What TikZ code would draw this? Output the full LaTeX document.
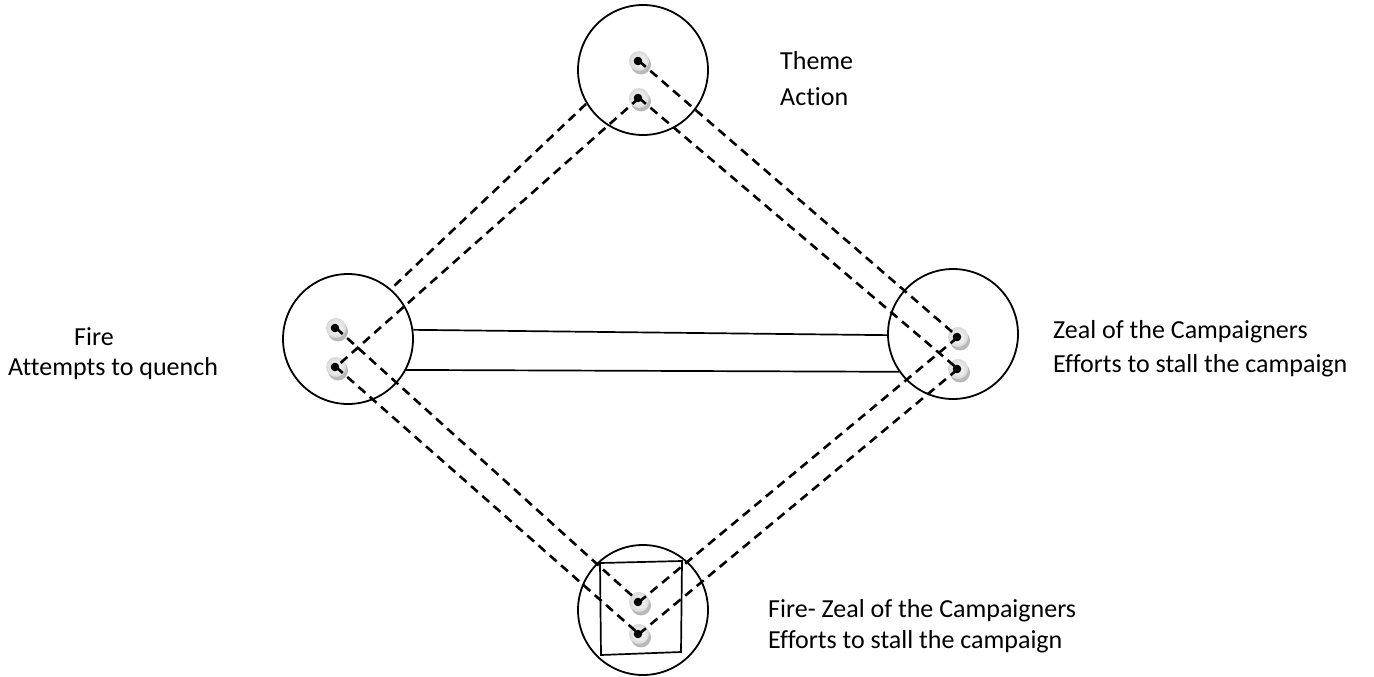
\documentclass[tikz,border=0pt]{standalone}
\usepackage{fontspec}
\setmainfont{Carlito}[Ligatures=NoCommon]
\begin{document}
\begin{tikzpicture}[x=1pt,y=-1pt,
  ring/.style={circle,draw,line width=1.8pt,minimum size=130pt,inner sep=0pt},
  link/.style={line width=2.6pt,dash pattern=on 9pt off 6pt},
  bar/.style={line width=1.7pt},
  lbl/.style={anchor=base west,inner sep=0pt,font=\fontsize{26}{30}\selectfont},
  bead/.pic={
    \fill[gray!55] (2,3.5) circle (10);
    \shade[inner color=white,outer color=gray!30] (0,0) circle (10);
    \fill[black] (-1,0) circle (4.3);
  }
]
\useasboundingbox (0,0) rectangle (1374,677);

% the four rings
\node[ring] (T) at (643,70) {};
\node[ring] (L) at (348,339) {};
\node[ring] (R) at (953,334) {};
\node[ring] (B) at (643,610) {};

% frame inside the lower ring
\coordinate (q1) at (600,563);
\coordinate (q2) at (682,561);
\coordinate (q3) at (681,652);
\coordinate (q4) at (601,655);
\draw[bar,line join=miter] (q1) -- (q2) -- (q3) -- (q4) -- cycle;

% bead positions
\coordinate (t1) at (639,61);
\coordinate (t2) at (639,98);
\coordinate (l1) at (336,328);
\coordinate (l2) at (336,367);
\coordinate (r1) at (958,337);
\coordinate (r2) at (958,369);
\coordinate (b1) at (639,602);
\coordinate (b2) at (639,634);

\foreach \p in {t1,t2,l1,l2,r1,r2,b1,b2} \pic at (\p) {bead};

% solid links between the side rings
\draw[bar] (L.8.8) -- (R.181.8);
\draw[bar] (L.-28.6) -- (R.-145.5);

% dashed links
\coordinate (o1) at (586,104);
\coordinate (o2) at (393,287);
\draw[link] (o1) -- (o2);
\draw[link] (t2) -- (l2);
\draw[link] (t1) -- (r1);
\draw[link] (t2) -- (r2);
\draw[link] (l1) -- (b1);
\draw[link] (l2) -- (b2);
\draw[link] (b1) -- (r1);
\draw[link] (b2) -- (r2);

% labels
\node[lbl] (th) at (780,70) {Theme};
\node[lbl] (ac) at (780,105) {Action};
\node[lbl] (fi) at (74,345) {Fire};
\node[lbl] (aq) at (8,375) {Attempts to quench};
\node[lbl] (ze) at (1053,338) {Zeal of the Campaigners};
\node[lbl] (ef) at (1053,372) {Efforts to stall the campaign};
\node[lbl] (fz) at (768,617) {Fire- Zeal of the Campaigners};
\node[lbl] (eb) at (768,648) {Efforts to stall the campaign};
\end{tikzpicture}
\end{document}
